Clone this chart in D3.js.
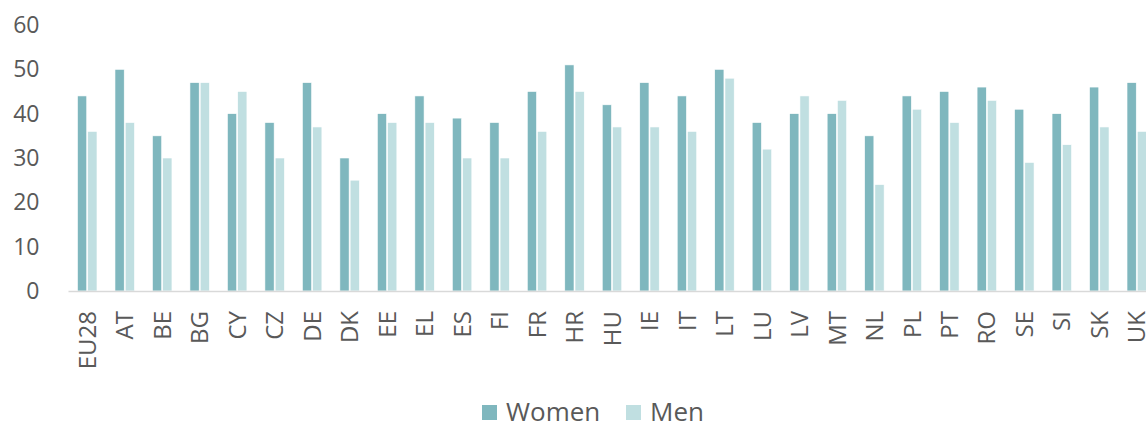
<!DOCTYPE html>
<html>
<head>
<meta charset="utf-8">
<script src="https://cdn.jsdelivr.net/npm/d3@7"></script>
<style>
  body { margin: 0; background: #fff; }
  svg { display: block; font-family: "Open Sans", sans-serif; }
</style>
</head>
<body>
<script>
// data
var countries = ['EU28', 'AT', 'BE', 'BG', 'CY', 'CZ', 'DE', 'DK', 'EE', 'EL', 'ES', 'FI', 'FR', 'HR',
  'HU', 'IE', 'IT', 'LT', 'LU', 'LV', 'MT', 'NL', 'PL', 'PT', 'RO', 'SE', 'SI', 'SK', 'UK'];
var women = [44, 50, 35, 47, 40, 38, 47, 30, 40, 44, 39, 38, 45, 51,
  42, 47, 44, 50, 38, 40, 40, 35, 44, 45, 46, 41, 40, 46, 47];
var men = [36, 38, 30, 47, 45, 30, 37, 25, 38, 38, 30, 30, 36, 45,
  37, 37, 36, 48, 32, 44, 43, 24, 41, 38, 43, 29, 33, 37, 36];
var seriesNames = ['Women', 'Men'];
var yTicks = [0, 10, 20, 30, 40, 50, 60];

var width = 1146, height = 423;
var colors = { Women: '#7fb7be', Men: '#c0dfe1' };
var textColor = '#595959';

var svg = d3.select('body').append('svg')
  .attr('width', width)
  .attr('height', height);

var x = d3.scaleBand()
  .domain(countries)
  .range([68.5, 1155.5])
  .paddingInner(0.48)
  .paddingOuter(0.24);

var xSub = d3.scaleBand()
  .domain(seriesNames)
  .range([0, x.bandwidth()])
  .paddingInner(0.1);

var y = d3.scaleLinear()
  .domain([0, 60])
  .range([291, 25]);

// bars
var rows = countries.map(function(c, i) {
  return { country: c, Women: women[i], Men: men[i] };
});

var groups = svg.append('g').selectAll('g')
  .data(rows)
  .enter().append('g')
  .attr('transform', function(d) { return 'translate(' + x(d.country) + ',0)'; });

groups.selectAll('rect')
  .data(function(d) { return seriesNames.map(function(s) { return { key: s, value: d[s] }; }); })
  .enter().append('rect')
  .attr('x', function(d) { return xSub(d.key); })
  .attr('y', function(d) { return y(d.value); })
  .attr('width', xSub.bandwidth())
  .attr('height', function(d) { return y(0) - y(d.value); })
  .attr('fill', function(d) { return colors[d.key]; })
  .attr('stroke', '#fff')
  .attr('stroke-width', 0.6);

// baseline
svg.append('line')
  .attr('x1', 68.5).attr('x2', width)
  .attr('y1', y(0) + 0.5).attr('y2', y(0) + 0.5)
  .attr('stroke', '#d9d9d9')
  .attr('stroke-width', 1.6);

// y axis
var yAxis = svg.append('g')
  .attr('transform', 'translate(68.5,0)')
  .call(d3.axisLeft(y).tickValues(yTicks).tickSize(0).tickPadding(29));
yAxis.select('.domain').remove();
yAxis.selectAll('text')
  .attr('fill', textColor)
  .style('font-size', '23px')
  .style('font-family', '"Open Sans", sans-serif');

// x labels, rotated
var xAxis = svg.append('g')
  .attr('transform', 'translate(0,' + y(0) + ')')
  .call(d3.axisBottom(x).tickSize(0));
xAxis.select('.domain').remove();
xAxis.selectAll('text')
  .attr('fill', textColor)
  .style('font-size', '24px')
  .style('font-family', '"Open Sans", sans-serif')
  .attr('text-anchor', 'end')
  .attr('transform', 'translate(0,20) rotate(-90)')
  .attr('x', 0)
  .attr('y', 0)
  .attr('dy', '0.36em');

// legend
var legendX = [482, 626];
var legend = svg.append('g').selectAll('g')
  .data(seriesNames)
  .enter().append('g')
  .attr('transform', function(d, i) { return 'translate(' + legendX[i] + ',405)'; });

legend.append('rect')
  .attr('width', 15)
  .attr('height', 15)
  .attr('fill', function(d) { return colors[d]; });

legend.append('text')
  .attr('x', 24)
  .attr('y', 16)
  .attr('fill', textColor)
  .style('font-size', '26px')
  .text(function(d) { return d; });
</script>
</body>
</html>
